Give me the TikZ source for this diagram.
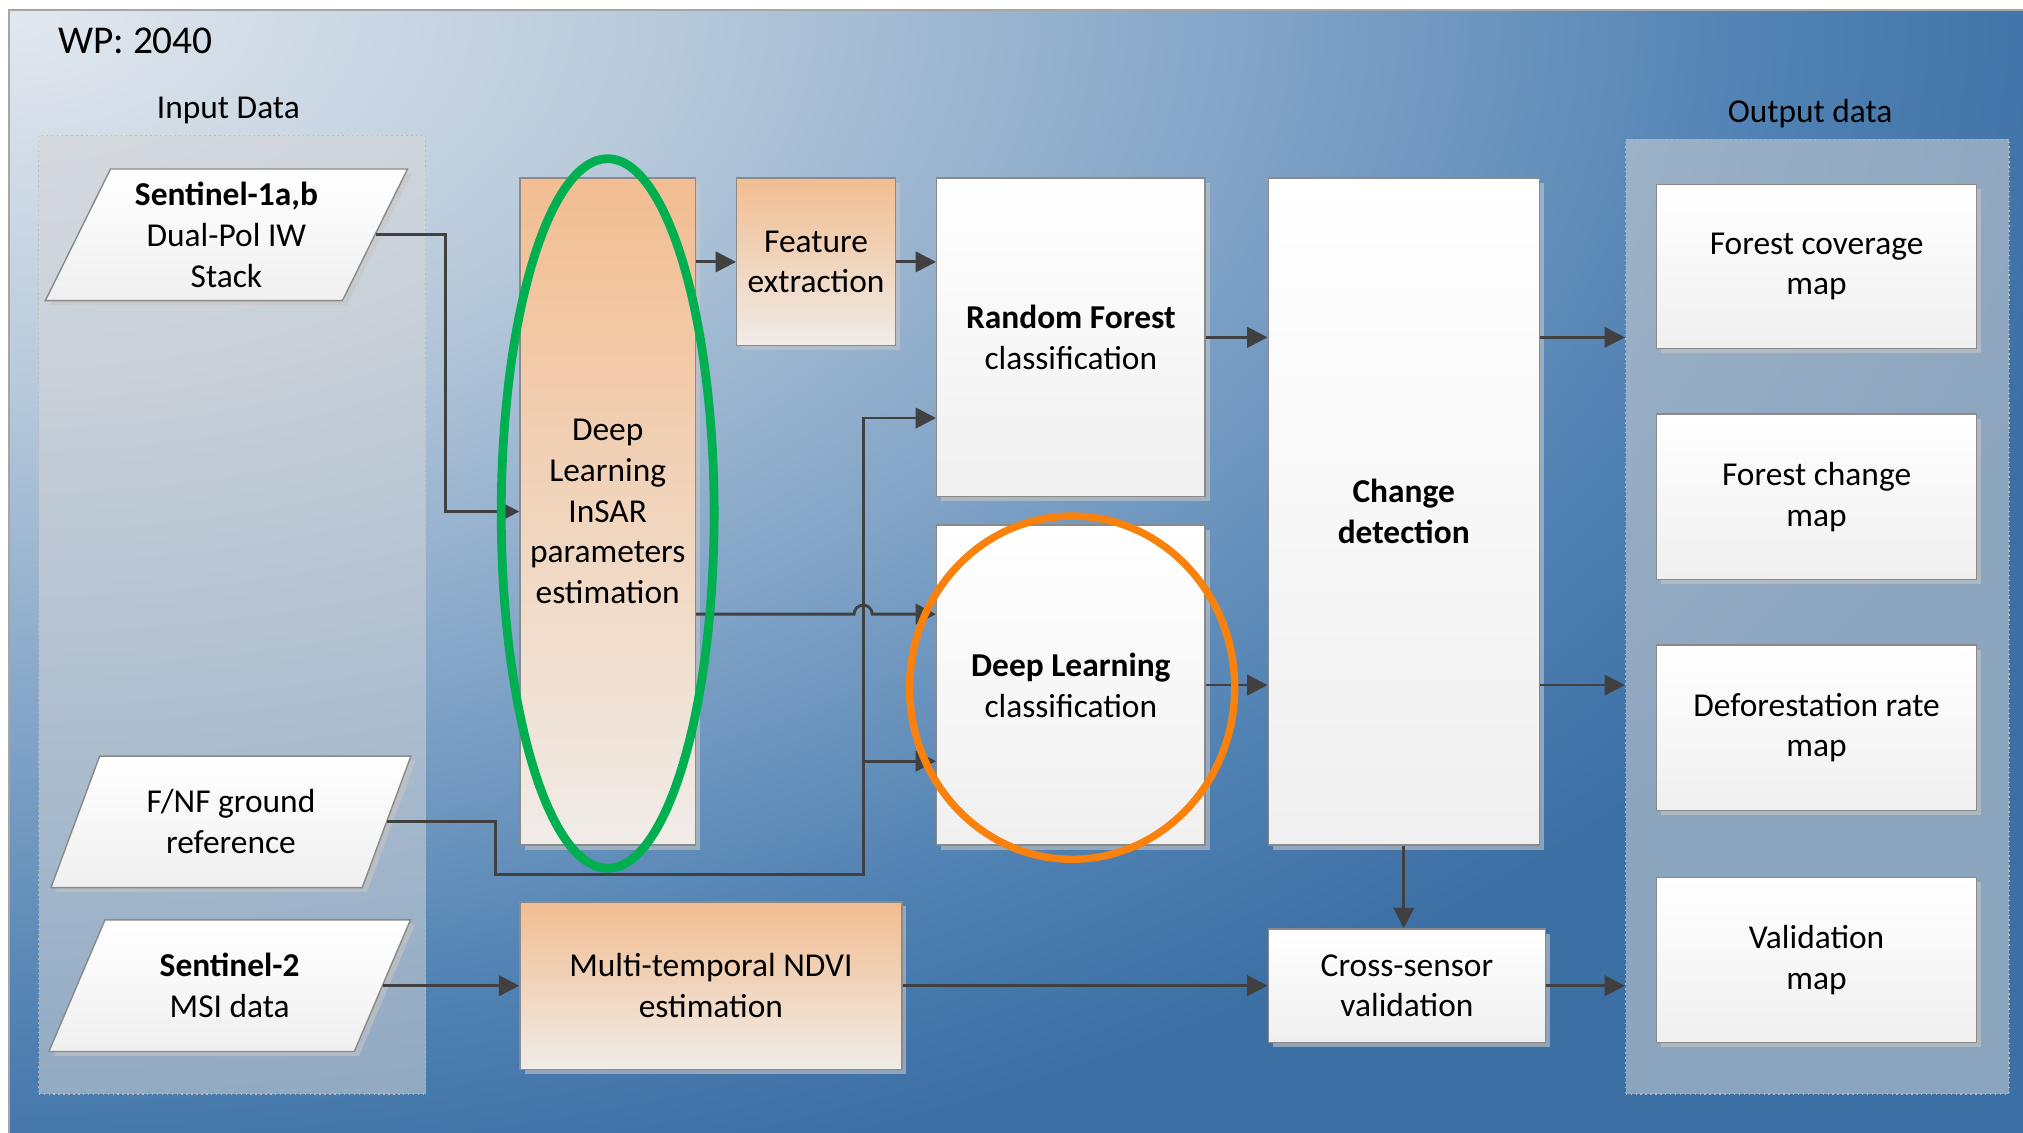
\documentclass[tikz,border=0pt]{standalone}
\usepackage{fontspec}
\setmainfont{Carlito}
\usetikzlibrary{shapes.geometric}
\usetikzlibrary{shadows}
\usetikzlibrary{arrows.meta}
\usetikzlibrary{positioning}

\definecolor{bgA}{HTML}{E2E8EF}
\definecolor{bgB}{HTML}{B9CADB}
\definecolor{bgC}{HTML}{7FA2C6}
\definecolor{bgD}{HTML}{4E80B2}
\definecolor{bgE}{HTML}{3C6FA4}
\definecolor{linkgray}{HTML}{404040}
\definecolor{boxline}{HTML}{8A8A8A}
\definecolor{peachtop}{HTML}{F2BD91}
\definecolor{peachbot}{HTML}{F0ECE8}
\definecolor{ringgreen}{HTML}{00B050}
\definecolor{ringorange}{HTML}{FA820C}
\definecolor{panelfill}{HTML}{D7D7D7}

\pgfdeclareradialshading{wpback}{\pgfpoint{0bp}{0bp}}{%
  color(0bp)=(bgA); color(7.5bp)=(bgB); color(15bp)=(bgC);
  color(21bp)=(bgD); color(25bp)=(bgE); color(50bp)=(bgE)}

\newcommand{\unitpx}{0.0129cm}

\tikzset{
  txt/.style={font=\fontsize{9.5}{11.6}\selectfont, align=center},
  sized/.style 2 args={minimum width=#1*\unitpx, minimum height=#2*\unitpx},
  whitebox/.style={txt, rectangle, draw=boxline, line width=0.4pt, inner sep=0pt,
    top color=white, bottom color=gray!12,
    drop shadow={shadow xshift=1.3pt, shadow yshift=-1.3pt, fill=gray!45, opacity=0.6}},
  peachbox/.style={whitebox, top color=peachtop, bottom color=peachbot},
  databox/.style={whitebox, trapezium, trapezium left angle=64,
    trapezium right angle=116, trapezium stretches=true},
  panel/.style={rectangle, fill=panelfill, fill opacity=0.52, draw=gray!55,
    densely dotted, line width=0.4pt, inner sep=0pt},
  link/.style={draw=linkgray, line width=0.8pt, ->},
  ring/.style={ellipse, draw, inner sep=0pt},
}

\begin{document}
\begin{tikzpicture}[x=0.0129cm, y=-0.0129cm, >={Triangle[length=5.8pt,width=5.8pt]}]
  \path[use as bounding box] (0,0) rectangle (1568,878);

  % background
  \begin{scope}
    \clip (7,8) rectangle (1568,878);
    \fill[bgE] (7,8) rectangle (1568,878);
    \shade[shading=wpback] (7,8) ellipse [x radius=1650, y radius=950];
  \end{scope}
  \draw[gray!70, line width=0.5pt] (1568,8) -- (7,8) -- (7,878);
  \node[font=\fontsize{11.2}{13}\selectfont] (wp) at (105,32) {WP: 2040};

  % panels
  \node[txt] (inlabel) at (177,86) {Input Data};
  \node[panel, sized={300}{743}] (inpanel) at (180,476.5) {};
  \node[txt] (outlabel) at (1403,88) {Output data};
  \node[panel, sized={297}{740}] (outpanel) at (1408.5,478) {};

  % input data
  \node[databox, sized={281}{102}] (s1) at (175.5,182) {\textbf{Sentinel-1a,b}\\Dual-Pol IW\\Stack};
  \node[databox, sized={281}{102}] (fnf) at (179,637) {F/NF ground\\reference};
  \node[databox, sized={281}{102}] (s2) at (178,764) {\textbf{Sentinel-2}\\MSI data};

  % processing
  \node[peachbox, sized={136}{517}] (insar) at (471,396.5) {Deep\\Learning\\InSAR\\parameters\\estimation};
  \node[peachbox, sized={123}{130}] (feat) at (632.5,203) {Feature\\extraction};
  \node[peachbox, sized={296}{130}] (ndvi) at (551,764) {Multi-temporal NDVI\\estimation};
  \node[whitebox, sized={208}{247}] (rf) at (830,261.5) {\textbf{Random Forest}\\classification};
  \node[whitebox, sized={208}{248}] (dl) at (830,531) {\textbf{Deep Learning}\\classification};
  \node[whitebox, sized={210}{517}] (cd) at (1088,396.5) {\textbf{Change}\\\textbf{detection}};
  \node[whitebox, sized={215}{88}] (cross) at (1090.5,764) {Cross-sensor\\validation};

  % output data
  \node[whitebox, sized={248}{127}] (out1) at (1408,206.5) {Forest coverage\\map};
  \node[whitebox, sized={248}{128}] (out2) at (1408,385) {Forest change\\map};
  \node[whitebox, sized={248}{128}] (out3) at (1408,564) {Deforestation rate\\map};
  \node[whitebox, sized={248}{128}] (out4) at (1408,744) {Validation\\map};

  % connectors
  \draw[link] (s1.east) -- +(54,0) |- (insar.west);
  \draw[link] (insar.east |- feat.west) -- (feat.west);
  \draw[link] (feat.east) -- (feat.east -| rf.west);
  \coordinate (bus) at (669,678);
  \draw[link] (insar.east |- 0,476) -- (662,476)
    arc[start angle=180, end angle=360, radius=7] -- (dl.west |- 0,476);
  \draw[link] (fnf.east) -- +(84,0) |- (bus) -- (bus |- 0,324) -- (rf.west |- 0,324);
  \draw[link] (bus |- 0,590) -- (dl.west |- 0,590);
  \draw[link] (rf.east) -- (rf.east -| cd.west);
  \draw[link] (dl.east) -- (dl.east -| cd.west);
  \draw[link] (cd.east |- rf.east) -- (outpanel.west |- rf.east);
  \draw[link] (cd.east |- dl.east) -- (outpanel.west |- dl.east);
  \draw[link] (cd.south) -- (cd.south |- cross.north);
  \draw[link] (s2.east) -- (s2.east -| ndvi.west);
  \draw[link] (ndvi.east) -- (ndvi.east -| cross.west);
  \draw[link] (cross.east) -- (cross.east -| outpanel.west);

  % highlights
  \node[ring, draw=ringgreen, line width=2.5pt, sized={165}{550}] (insarring) at (471,398) {};
  \node[ring, draw=ringorange, line width=2.1pt, sized={252}{266}] (dlring) at (831,533) {};
\end{tikzpicture}
\end{document}
